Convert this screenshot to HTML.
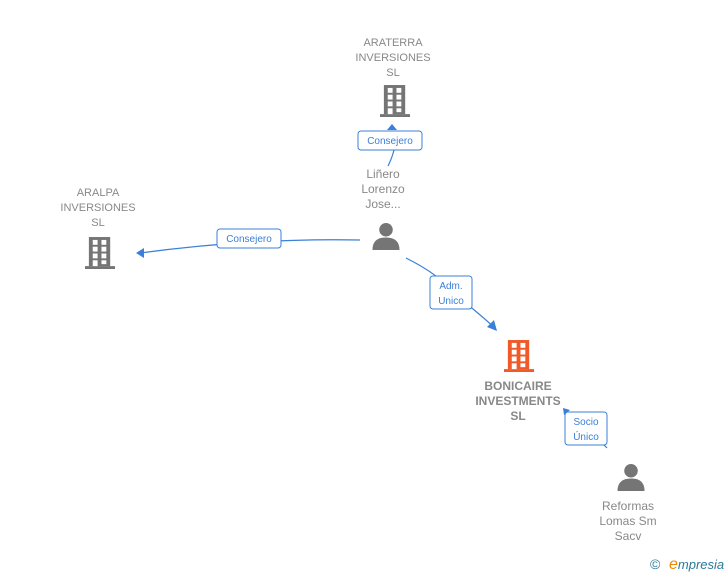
<!DOCTYPE html>
<html><head><meta charset="utf-8"><style>
html,body{margin:0;padding:0;background:#fff;}
svg{display:block;font-family:"Liberation Sans",Arial,sans-serif;}
</style></head><body>
<svg width="728" height="575" viewBox="0 0 728 575" xmlns="http://www.w3.org/2000/svg">
<defs>
<symbol id="bld" viewBox="0 0 32 34">
<rect x="4" y="0" width="22" height="30"/>
<rect x="0" y="30" width="31" height="3"/>
<g fill="#fff">
<rect x="8" y="3" width="5" height="5"/><rect x="17" y="3" width="5" height="5"/>
<rect x="8" y="10" width="5" height="5"/><rect x="17" y="10" width="5" height="5"/>
<rect x="8" y="17" width="5" height="5"/><rect x="17" y="17" width="5" height="5"/>
<rect x="8" y="24" width="5" height="6"/><rect x="17" y="24" width="5" height="4"/>
</g>
</symbol>
<symbol id="per" viewBox="0 0 30 30">
<circle cx="15" cy="8" r="7"/>
<path d="M1 29 Q1 16 15 16 Q29 16 29 29 Z"/>
</symbol>
</defs>
<g fill="none" stroke="#3a7fd8" stroke-width="1.2">
<path d="M394 150 Q392 158 388 166"/>
<path d="M360 240 Q250 238 140 253"/>
<path d="M406 258 Q440 275 452 292 Q475 310 495 328"/>
<path d="M566 412 Q590 430 607 448"/>
</g>
<g fill="#3a7fd8">
<path d="M392 124 L387 130 L397 130 Z"/>
<path d="M136 253 L144 248 L144 258 Z"/>
<path d="M497 331 L487 327 L494 320 Z"/>
<path d="M563 408 L570 410 L564 415 Z"/>
</g>
<g fill="#fff" stroke="#3a7fd8" stroke-width="1">
<rect x="358" y="131" width="64" height="19" rx="3"/>
<rect x="217" y="229" width="64" height="19" rx="3"/>
<rect x="430" y="276" width="42" height="33" rx="3"/>
<rect x="565" y="412" width="42" height="33" rx="3"/>
</g>
<g fill="#3a7fd8" font-size="10" text-anchor="middle">
<text x="390" y="144">Consejero</text>
<text x="249" y="242">Consejero</text>
<text x="451" y="289">Adm.</text>
<text x="451" y="304">Unico</text>
<text x="586" y="425">Socio</text>
<text x="586" y="440">Único</text>
</g>
<g fill="#757575">
<use href="#bld" x="380" y="85" width="31" height="33"/>
<use href="#bld" x="85" y="237" width="31" height="33"/>
<use href="#per" x="371" y="222" width="30" height="29"/>
<use href="#per" x="616" y="463" width="30" height="29"/>
</g>
<use href="#bld" x="504" y="340" width="31" height="33" fill="#f05a28"/>
<g fill="#888" font-size="11" text-anchor="middle">
<text x="393" y="46">ARATERRA</text>
<text x="393" y="61">INVERSIONES</text>
<text x="393" y="76">SL</text>
<text x="98" y="196">ARALPA</text>
<text x="98" y="211">INVERSIONES</text>
<text x="98" y="226">SL</text>
<text x="383" y="178" font-size="12">Liñero</text>
<text x="383" y="193" font-size="12">Lorenzo</text>
<text x="383" y="208" font-size="12">Jose...</text>
<text x="628" y="510" font-size="12">Reformas</text>
<text x="628" y="525" font-size="12">Lomas Sm</text>
<text x="628" y="540" font-size="12">Sacv</text>
<g font-weight="bold" font-size="12">
<text x="518" y="390">BONICAIRE</text>
<text x="518" y="405">INVESTMENTS</text>
<text x="518" y="420">SL</text>
</g>
</g>
<text x="650" y="569" font-size="14" fill="#2a7a9a">©</text>
<text x="669" y="569" font-size="13" font-style="italic" fill="#2a7a9a"><tspan fill="#f08a00" font-size="16">e</tspan>mpresia</text>
</svg>
</body></html>
